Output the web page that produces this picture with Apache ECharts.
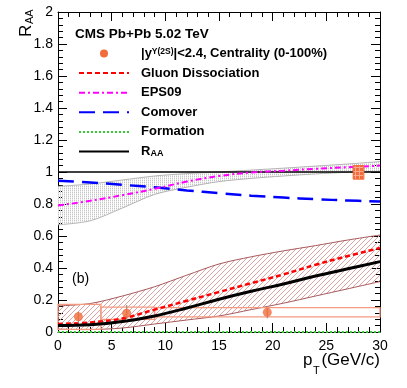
<!DOCTYPE html>
<html>
<head>
<meta charset="utf-8">
<script src="https://cdn.jsdelivr.net/npm/echarts@6/dist/echarts.min.js"></script>
<style>
  html, body { margin: 0; padding: 0; background: #fff; }
  #main { width: 407px; height: 388px; }
</style>
</head>
<body>
<div id="main"></div>
<script>
// model curves at these pT values
const pt = [0, 3, 6, 9, 12, 15, 18, 21, 24, 27, 30];
const eps09 = [0.79, 0.82, 0.855, 0.895, 0.94, 0.975, 0.997, 1.008, 1.02, 1.03, 1.04];
const eps09Hi = [0.91, 0.925, 0.95, 0.975, 0.99, 1.0, 1.012, 1.024, 1.037, 1.05, 1.065];
const eps09Lo = [0.67, 0.695, 0.775, 0.86, 0.905, 0.94, 0.96, 0.975, 0.988, 0.998, 1.005];
const comover = [0.946, 0.935, 0.92, 0.904, 0.885, 0.868, 0.852, 0.84, 0.83, 0.822, 0.815];
const gluonDiss = [0.05, 0.06, 0.085, 0.14, 0.195, 0.25, 0.305, 0.36, 0.42, 0.475, 0.525];
const gluonHi = [0.163, 0.178, 0.225, 0.283, 0.355, 0.425, 0.47, 0.507, 0.54, 0.575, 0.606];
const gluonLo = [0.018, 0.015, 0.025, 0.05, 0.075, 0.1, 0.14, 0.18, 0.225, 0.27, 0.315];
const raaModel = [0.04, 0.045, 0.065, 0.1, 0.15, 0.205, 0.255, 0.3, 0.35, 0.395, 0.44];
const formation = [0, 0, 0, 0, 0, 0, 0, 0, 0, 0, 0];
const unityX = [0, 30];
const unityY = [1, 1];

// measured Upsilon(2S) points
const dataPt = [1.9, 6.4, 19.5];
const dataRaa = [0.095, 0.117, 0.123];
const statLo = [0.055, 0.075, 0.086];
const statHi = [0.127, 0.169, 0.148];
const binLo = [0, 4, 9];
const binHi = [4, 9, 30];
const sysLo = [0.017, 0.079, 0.094];
const sysHi = [0.173, 0.155, 0.152];
const globalX = [27.5, 28.5];
const globalY = [0.955, 1.04];

const FONT = 'Liberation Sans';

function makePattern(w, h, draw) {
    const c = document.createElement('canvas');
    c.width = w;
    c.height = h;
    draw(c.getContext('2d'));
    return { image: c, repeat: 'repeat' };
}

// ROOT-like fill styles
const greyHatch = makePattern(2, 2, ctx => {
    ctx.fillStyle = '#c6c6c6';
    ctx.fillRect(0, 0, 1, 1);
    ctx.fillStyle = '#e8e8e8';
    ctx.fillRect(0, 1, 1, 1);
});
const redHatch = makePattern(5, 5, ctx => {
    ctx.strokeStyle = '#dba3a3';
    ctx.lineWidth = 1;
    ctx.beginPath();
    ctx.moveTo(0, 5); ctx.lineTo(5, 0);
    ctx.moveTo(-1, 1); ctx.lineTo(1, -1);
    ctx.moveTo(4, 6); ctx.lineTo(6, 4);
    ctx.stroke();
});
const globalFill = makePattern(4, 4, ctx => {
    ctx.fillStyle = '#f26b3a';
    ctx.fillRect(0, 0, 4, 4);
    ctx.fillStyle = '#f9a98c';
    ctx.fillRect(3, 0, 1, 4);
    ctx.fillRect(0, 3, 4, 1);
});

const pairs = (xs, ys) => xs.map((x, i) => [x, ys[i]]);

const chart = echarts.init(document.getElementById('main'));

const tickAxis = (extra) => Object.assign({
    type: 'value',
    axisLine: { show: true, onZero: false, lineStyle: { color: '#000', width: 1 } },
    axisTick: { inside: true, length: 9, lineStyle: { color: '#000' } },
    minorTick: { show: true, splitNumber: 5, length: 5, lineStyle: { color: '#000' } },
    splitLine: { show: false },
}, extra);

const lineSeries = (name, ys, color, width, dash, z) => ({
    name: name,
    type: 'line',
    data: pairs(pt, ys),
    symbol: 'none',
    smooth: 0.4,
    lineStyle: { color: color, width: width, type: dash },
    itemStyle: { color: color },
    z: z,
});

// hatched band between lo and hi, drawn once from the whole arrays
const bandSeries = (name, lo, hi, fill, edge) => ({
    name: name,
    type: 'custom',
    z: 1,
    data: pt.map((x, i) => [x, lo[i], hi[i]]),
    encode: { x: 0, y: [1, 2] },
    renderItem: function (params, api) {
        if (params.dataIndex !== 0) return null;
        const top = pt.map((x, i) => api.coord([x, hi[i]]));
        const bottom = pt.map((x, i) => api.coord([x, lo[i]]));
        return {
            type: 'group',
            children: [
                { type: 'polygon', shape: { points: top.concat(bottom.slice().reverse()) }, style: { fill: fill, stroke: 'none' } },
                { type: 'polyline', shape: { points: top, smooth: 0.3 }, style: { stroke: edge, lineWidth: 1, fill: 'none' } },
                { type: 'polyline', shape: { points: bottom, smooth: 0.3 }, style: { stroke: edge, lineWidth: 1, fill: 'none' } },
            ],
        };
    },
});

const legendNames = ['data', 'Gluon Dissociation', 'EPS09', 'Comover', 'Formation', 'RAA'];

const option = {
    animation: false,
    grid: { left: 58, right: 27, top: 12, bottom: 56 },
    xAxis: [
        tickAxis({
            min: 0, max: 30, interval: 5, position: 'bottom',
            axisLabel: { fontSize: 14, color: '#000', fontFamily: FONT, margin: 7 },
        }),
        tickAxis({ min: 0, max: 30, interval: 5, position: 'top', axisLabel: { show: false } }),
    ],
    yAxis: [
        tickAxis({
            min: 0, max: 2, interval: 0.2, position: 'left',
            axisLabel: { fontSize: 14, color: '#000', fontFamily: FONT, margin: 5 },
        }),
        tickAxis({ min: 0, max: 2, interval: 0.2, position: 'right', axisLabel: { show: false } }),
    ],
    legend: {
        orient: 'vertical',
        left: 78,
        top: 47,
        padding: 0,
        itemGap: 6.6,
        itemWidth: 50,
        itemHeight: 8,
        data: legendNames.map(n => ({ name: n, itemStyle: { opacity: n === 'data' ? 1 : 0 } })),
        formatter: function (name) {
            if (name === 'data') return '{m||y}{sup|\u03A5(2S)}{m||<2.4, Centrality (0-100%)}';
            if (name === 'RAA') return '{m|R}{sub|AA}';
            return '{m|' + name + '}';
        },
        textStyle: {
            padding: [0, 0, 0, 7],
            rich: {
                m: { fontSize: 13, fontWeight: 'bold', fontFamily: FONT, color: '#000' },
                sup: { fontSize: 8.5, fontWeight: 'bold', fontFamily: FONT, color: '#000', lineHeight: 6, verticalAlign: 'top' },
                sub: { fontSize: 9, fontWeight: 'bold', fontFamily: FONT, color: '#000', lineHeight: 11, verticalAlign: 'bottom' },
            },
        },
    },
    graphic: [
        { type: 'text', left: 75, top: 27, style: { text: 'CMS Pb+Pb 5.02 TeV', font: 'bold 13.5px ' + FONT, fill: '#000' } },
        { type: 'text', left: 72, top: 272, style: { text: '(b)', font: '14px ' + FONT, fill: '#000' } },
        { type: 'text', x: 26, y: 37, rotation: Math.PI / 2, style: { text: 'R', font: '17px ' + FONT, fill: '#000', textAlign: 'left', textVerticalAlign: 'middle' } },
        { type: 'text', x: 30, y: 24, rotation: Math.PI / 2, style: { text: 'AA', font: '11px ' + FONT, fill: '#000', textAlign: 'left', textVerticalAlign: 'middle' } },
        { type: 'text', x: 303, y: 360, style: { text: 'p', font: '17px ' + FONT, fill: '#000', textAlign: 'left', textVerticalAlign: 'middle' } },
        { type: 'text', x: 313, y: 371, style: { text: 'T', font: '11px ' + FONT, fill: '#000', textAlign: 'left', textVerticalAlign: 'middle' } },
        { type: 'text', x: 380, y: 360, style: { text: '(GeV/c)', font: '17px ' + FONT, fill: '#000', textAlign: 'right', textVerticalAlign: 'middle' } },
    ],
    series: [
        bandSeries('eps09Band', eps09Lo, eps09Hi, greyHatch, '#b4b4b4'),
        bandSeries('gluonBand', gluonLo, gluonHi, redHatch, '#a6585a'),
        // systematic boxes
        {
            name: 'sys', type: 'custom', z: 2,
            data: binLo.map((x, i) => [x, binHi[i], sysLo[i], sysHi[i]]),
            encode: { x: [0, 1], y: [2, 3] },
            renderItem: function (params, api) {
                const p0 = api.coord([api.value(0), api.value(3)]);
                const p1 = api.coord([api.value(1), api.value(2)]);
                return {
                    type: 'rect',
                    shape: { x: p0[0], y: p0[1], width: p1[0] - p0[0], height: p1[1] - p0[1] },
                    style: { fill: 'none', stroke: '#f39a80', lineWidth: 1.3 },
                };
            },
        },
        {
            name: 'global', type: 'custom', z: 4,
            data: [[globalX[0], globalX[1], globalY[0], globalY[1]]],
            encode: { x: [0, 1], y: [2, 3] },
            renderItem: function (params, api) {
                const p0 = api.coord([api.value(0), api.value(3)]);
                const p1 = api.coord([api.value(1), api.value(2)]);
                return {
                    type: 'rect',
                    shape: { x: p0[0], y: p0[1], width: p1[0] - p0[0], height: p1[1] - p0[1] },
                    style: { fill: globalFill, stroke: '#f26b3a', lineWidth: 1 },
                };
            },
        },
        {
            name: 'unity', type: 'line', data: pairs(unityX, unityY), symbol: 'none',
            lineStyle: { color: '#000', width: 1.5 }, z: 3,
        },
        lineSeries('Comover', comover, '#0000ff', 2.5, [16, 8], 3),
        lineSeries('EPS09', eps09, '#ff00ff', 2, [6, 3, 2, 3], 3),
        lineSeries('Gluon Dissociation', gluonDiss, '#ff0000', 2.5, [5, 3], 3),
        lineSeries('RAA', raaModel, '#000000', 3, 'solid', 3),
        lineSeries('Formation', formation, '#33cc33', 2, [2, 2], 3),
        // stat error bars
        {
            name: 'stat', type: 'custom', z: 4,
            data: dataPt.map((x, i) => [x, statLo[i], statHi[i]]),
            encode: { x: 0, y: [1, 2] },
            renderItem: function (params, api) {
                const a = api.coord([api.value(0), api.value(1)]);
                const b = api.coord([api.value(0), api.value(2)]);
                return {
                    type: 'line',
                    shape: { x1: a[0], y1: a[1], x2: b[0], y2: b[1] },
                    style: { stroke: '#a88c80', lineWidth: 1.2 },
                };
            },
        },
        {
            name: 'data', type: 'scatter', data: pairs(dataPt, dataRaa),
            symbol: 'circle', symbolSize: 9, itemStyle: { color: '#f26b3a' }, z: 5,
        },
    ],
};

chart.setOption(option);
</script>
</body>
</html>
